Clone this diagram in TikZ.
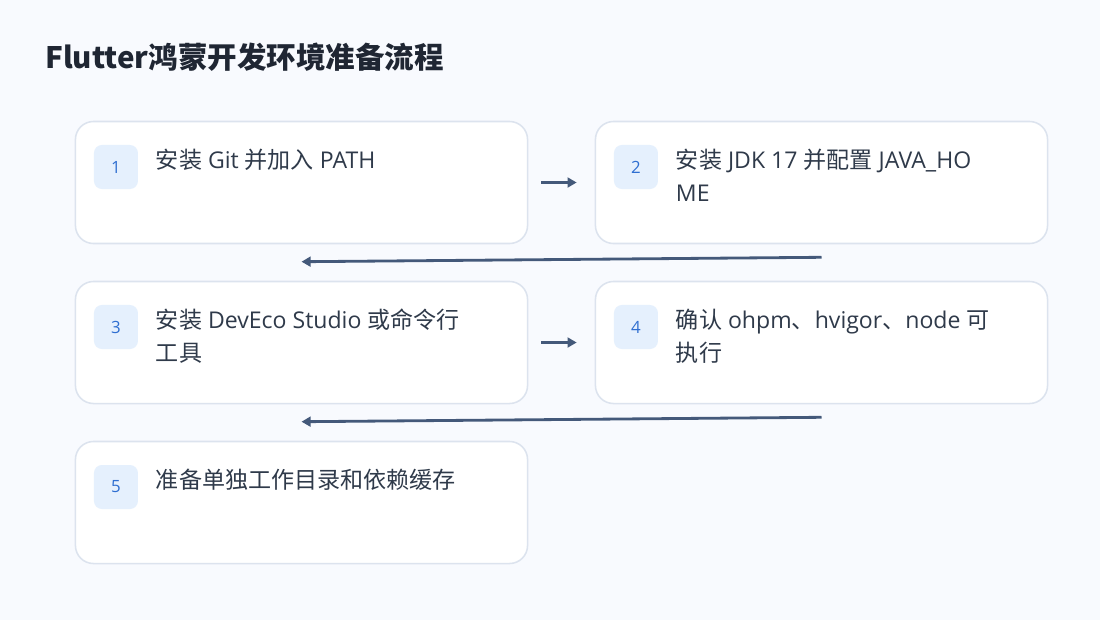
\documentclass[tikz,border=0pt]{standalone}
\usepackage{fontspec}
\setmainfont{Open Sans}
\newfontfamily\cjk{Noto Sans CJK SC}
\usetikzlibrary{positioning,calc,arrows.meta}

% colours of the page
\definecolor{pagebg}{HTML}{F8FAFE}
\definecolor{cardline}{HTML}{DCE3EE}
\definecolor{badgefill}{HTML}{E5F0FD}
\definecolor{badgetext}{HTML}{2F6FD1}
\definecolor{steptext}{HTML}{2F3A4A}
\definecolor{titletext}{HTML}{1F2633}
\definecolor{flowline}{HTML}{44597A}

\tikzset{
  stepcard/.style={draw=cardline, line width=1.1pt, fill=white, rounded corners=0.45cm,
    minimum width=11.3cm, minimum height=3.05cm, inner sep=0pt},
  stepbadge/.style={fill=badgefill, rounded corners=0.2cm, minimum size=1.1cm,
    inner sep=0pt, anchor=north west, text=badgetext, font=\fontsize{12}{14}\selectfont},
  steplabel/.style={anchor=north west, inner sep=0pt, align=left, text=steptext,
    font=\fontsize{16.4}{23.5}\selectfont},
  flowarrow/.style={draw=flowline, line width=2pt, -{Triangle[length=6.5pt,width=7pt]}}
}

\begin{document}
\begin{tikzpicture}[x=0.025cm, y=-0.025cm]

    % Page background and fixed frame
    \fill[pagebg] (0,0) rectangle (1100,620);
    \useasboundingbox (0,0) rectangle (1100,620);

    % Title
    \node[anchor=west, inner sep=0pt, text=titletext, font=\cjk\fontsize{21}{26}\selectfont\bfseries]
      (title) at (45,57) {Flutter鸿蒙开发环境准备流程};

    % The five step cards, two per row
    \node[stepcard] (b1) at (301.5,182.5) {};
    \node[stepcard] (b2) at (821.5,182.5) {};
    \node[stepcard] (b3) at (301.5,342.5) {};
    \node[stepcard] (b4) at (821.5,342.5) {};
    \node[stepcard] (b5) at (301.5,502.5) {};

    % Number badges in the upper left corner of each card
    \node[stepbadge] (n1) at ($(b1.north west)+(19,24)$) {1};
    \node[stepbadge] (n2) at ($(b2.north west)+(19,24)$) {2};
    \node[stepbadge] (n3) at ($(b3.north west)+(19,24)$) {3};
    \node[stepbadge] (n4) at ($(b4.north west)+(19,24)$) {4};
    \node[stepbadge] (n5) at ($(b5.north west)+(19,24)$) {5};

    % Step texts
    \node[steplabel] (t1) at ($(b1.north west)+(81,28)$) {{\cjk 安装} Git {\cjk 并加入} PATH};
    \node[steplabel] (t2) at ($(b2.north west)+(81,28)$) {{\cjk 安装} JDK 17 {\cjk 并配置} JAVA\_HO\\ME};
    \node[steplabel] (t3) at ($(b3.north west)+(81,28)$) {{\cjk 安装} DevEco Studio {\cjk 或命令行}\\{\cjk 工具}};
    \node[steplabel] (t4) at ($(b4.north west)+(81,28)$) {{\cjk 确认} ohpm{\cjk 、}hvigor{\cjk 、}node {\cjk 可}\\{\cjk 执行}};
    \node[steplabel] (t5) at ($(b5.north west)+(81,28)$) {{\cjk 准备单独工作目录和依赖缓存}};

    % Arrows along each row
    \draw[flowarrow, shorten <=0.325cm, shorten >=0.45cm] (b1) -- (b2);
    \draw[flowarrow, shorten <=0.325cm, shorten >=0.45cm] (b3) -- (b4);

    % Arrows back to the start of the next row
    \draw[flowarrow] ($(b2.south)+(0,13)$) -- ($(b3.north)+(0,-19)$);
    \draw[flowarrow] ($(b4.south)+(0,13)$) -- ($(b5.north)+(0,-19)$);

\end{tikzpicture}
\end{document}
